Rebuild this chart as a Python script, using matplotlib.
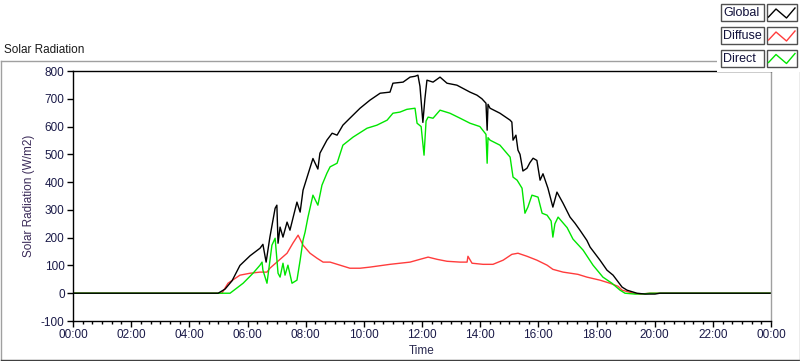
import matplotlib
matplotlib.use('Agg')
import matplotlib.pyplot as plt
from matplotlib.ticker import FixedLocator, MultipleLocator, FuncFormatter
from matplotlib.patches import Rectangle
from matplotlib.lines import Line2D

plt.rcParams['font.family'] = ['Liberation Sans', 'DejaVu Sans']
plt.rcParams['axes.unicode_minus'] = False

# ---- data (hours of day, W/m2) ----
global_t = [0, 4.99, 5.23, 5.47, 5.74, 6.09, 6.43, 6.53, 6.64, 6.77, 6.95, 7.01, 7.05, 7.12, 7.22, 7.36,
            7.46, 7.70, 7.81, 7.91, 8.05, 8.25, 8.42, 8.49, 8.73, 8.91, 9.08, 9.28, 9.52, 9.87, 10.21,
            10.56, 10.90, 11.00, 11.35, 11.59, 11.76, 11.86, 11.93, 12.03, 12.10, 12.17, 12.38, 12.62,
            12.86, 13.20, 13.65, 13.89, 14.06, 14.20, 14.24, 14.27, 14.34, 14.68, 15.03, 15.09, 15.13,
            15.23, 15.30, 15.37, 15.47, 15.61, 15.71, 15.82, 15.95, 16.06, 16.16, 16.33, 16.50, 16.64,
            16.85, 17.09, 17.26, 17.43, 17.67, 17.78, 18.12, 18.36, 18.57, 18.88, 19.05, 19.39, 19.67,
            20.01, 20.18, 24]
global_v = [0, 0, 15, 45, 100, 135, 162, 176, 112, 202, 306, 317, 180, 238, 202, 256,
            227, 328, 292, 371, 418, 485, 447, 504, 551, 576, 569, 605, 630, 666, 695,
            720, 724, 756, 760, 778, 781, 785, 745, 615, 700, 767, 760, 778,
            756, 749, 724, 713, 700, 684, 587, 680, 666, 648, 623, 616, 551,
            569, 515, 500, 440, 450, 470, 486, 478, 407, 430, 378, 310, 364,
            324, 274, 252, 227, 190, 166, 119, 83, 65, 22, 11, 0, -3,
            -3, 0, 0]

diffuse_t = [0, 5.12, 5.33, 5.74, 6.09, 6.43, 6.67, 6.77, 7.01, 7.36, 7.56, 7.74, 7.91, 8.15, 8.39,
             8.60, 8.84, 9.18, 9.52, 9.87, 10.21, 10.90, 11.59, 11.93, 12.21, 12.52, 12.86, 13.31,
             13.55, 13.58, 13.72, 14.10, 14.44, 14.79, 15.09, 15.30, 15.61, 15.95, 16.30, 16.50,
             16.85, 17.36, 17.67, 18.12, 18.46, 18.74, 18.88, 19.26, 19.50, 19.84, 24]
diffuse_v = [0, 0, 36, 65, 72, 76, 76, 90, 112, 144, 180, 209, 173, 144, 126,
             112, 112, 101, 90, 90, 94, 104, 112, 122, 130, 122, 115, 112,
             112, 133, 108, 104, 104, 119, 140, 144, 133, 119, 101, 86,
             76, 68, 58, 47, 36, 25, 11, 0, -3, 0, 0]

direct_t = [0, 5.40, 5.85, 6.19, 6.43, 6.50, 6.53, 6.67, 6.84, 6.95, 7.05, 7.12, 7.22, 7.29, 7.39,
            7.53, 7.70, 7.81, 7.91, 7.98, 8.08, 8.25, 8.42, 8.56, 8.73, 8.84, 9.08, 9.28, 9.63,
            10.11, 10.45, 10.80, 11.00, 11.24, 11.48, 11.76, 11.83, 11.97, 12.07, 12.14, 12.21,
            12.38, 12.62, 12.96, 13.31, 13.65, 13.99, 14.20, 14.24, 14.27, 14.34, 14.68, 15.03,
            15.13, 15.27, 15.44, 15.54, 15.64, 15.78, 15.99, 16.13, 16.30, 16.44, 16.50, 16.57,
            16.68, 16.99, 17.19, 17.54, 17.88, 18.22, 18.53, 18.81, 18.98, 19.32, 19.67, 19.84, 24]
direct_v = [0, 0, 36, 72, 101, 112, 83, 36, 173, 198, 72, 58, 108, 65, 101,
            36, 47, 119, 191, 220, 274, 353, 317, 389, 432, 455, 468, 533, 562,
            594, 605, 623, 648, 652, 662, 666, 612, 600, 497, 620, 634,
            630, 659, 648, 630, 612, 600, 572, 468, 560, 551, 533, 490,
            418, 407, 378, 288, 310, 353, 346, 288, 281, 260, 202, 250,
            274, 236, 195, 155, 101, 58, 36, 11, 0, -3, -2, 0, 0]

series_names = ['Global', 'Diffuse', 'Direct']
series_colors = ['#000000', '#ff3c3c', '#00e600']
y_ticks = [-100, 0, 100, 200, 300, 400, 500, 600, 700, 800]
x_major = [0, 2, 4, 6, 8, 10, 12, 14, 16, 18, 20, 22, 24]

W, H = 800, 361
fig = plt.figure(figsize=(W / 100, H / 100), dpi=100)
fig.patch.set_facecolor('white')

ax = fig.add_axes([73 / W, 1 - 321 / H, 698 / W, 250 / H])
ax.plot(diffuse_t, diffuse_v, color=series_colors[1], lw=1.0)
ax.plot(direct_t, direct_v, color=series_colors[2], lw=1.0)
ax.plot(global_t, global_v, color=series_colors[0], lw=1.0)

ax.set_xlim(0, 24)
ax.set_ylim(-100, 800)
tick_col = '#1a1a48'
ax.yaxis.set_major_locator(FixedLocator(y_ticks))
ax.xaxis.set_major_locator(FixedLocator(x_major))
ax.xaxis.set_minor_locator(MultipleLocator(1 / 3))
ax.xaxis.set_major_formatter(FuncFormatter(lambda v, p: '%02d:00' % (int(round(v)) % 24)))
ax.tick_params(axis='both', which='major', direction='out', length=4, width=1,
               color='black', labelsize=8.5, labelcolor=tick_col, pad=2)
ax.tick_params(axis='x', which='minor', direction='out', length=2.5, width=1, color='black')
for s in ['left', 'bottom', 'top']:
    ax.spines[s].set_color('black')
    ax.spines[s].set_linewidth(1)
ax.spines['right'].set_color('#a0a0a0')
ax.spines['right'].set_linewidth(1)

ax.set_xlabel('Time', fontsize=8.5, color='#2a2a50', labelpad=3)
ax.set_ylabel('Solar Radiation (W/m2)', fontsize=8.5, color='#3a2a58', labelpad=4)

# outer panel frame
def fx(px):
    return px / W

def fy(py):
    return 1 - py / H

fig.add_artist(Line2D([fx(0.5), fx(799.5)], [fy(61), fy(61)], transform=fig.transFigure, color='#a0a0a0', lw=1))
fig.add_artist(Line2D([fx(0.5), fx(0.5)], [fy(61), fy(360)], transform=fig.transFigure, color='#a0a0a0', lw=1))
fig.add_artist(Line2D([fx(0.5), fx(799.5)], [fy(360), fy(360)], transform=fig.transFigure, color='#404040', lw=1))
fig.add_artist(Line2D([fx(799.5), fx(799.5)], [fy(61), fy(360)], transform=fig.transFigure, color='#a0a0a0', lw=1))

fig.text(fx(4), fy(50), 'Solar Radiation', fontsize=8.5, color='#1a1a1a', va='center', ha='left')

# legend panel (covers top-right corner)
fig.add_artist(Rectangle((fx(717), fy(72)), fx(83), 72 / H, transform=fig.transFigure,
                         facecolor='white', edgecolor='none', zorder=5))
rows = [(4, 21), (27, 44), (49.5, 66.5)]
for (y0, y1), name, col in zip(rows, series_names, series_colors):
    fig.add_artist(Rectangle((fx(720.5), fy(y1)), fx(43), (y1 - y0) / H, transform=fig.transFigure,
                             facecolor='white', edgecolor='#505050', lw=1, zorder=6))
    fig.add_artist(Rectangle((fx(766.5), fy(y1)), fx(30), (y1 - y0) / H, transform=fig.transFigure,
                             facecolor='white', edgecolor='#505050', lw=1, zorder=6))
    fig.text(fx(723), fy((y0 + y1) / 2 + 0.5), name, fontsize=9, color='#10103a',
             va='center', ha='left', zorder=7)
    yy = [y1 - 4, y0 + 5, y1 - 3, y0 + 4]
    xx = [768.5, 776, 786.5, 795]
    fig.add_artist(Line2D([fx(v) for v in xx], [fy(v) for v in yy], transform=fig.transFigure,
                          color=col, lw=1, zorder=7))

fig.savefig('out.png', dpi=100, facecolor='white')
